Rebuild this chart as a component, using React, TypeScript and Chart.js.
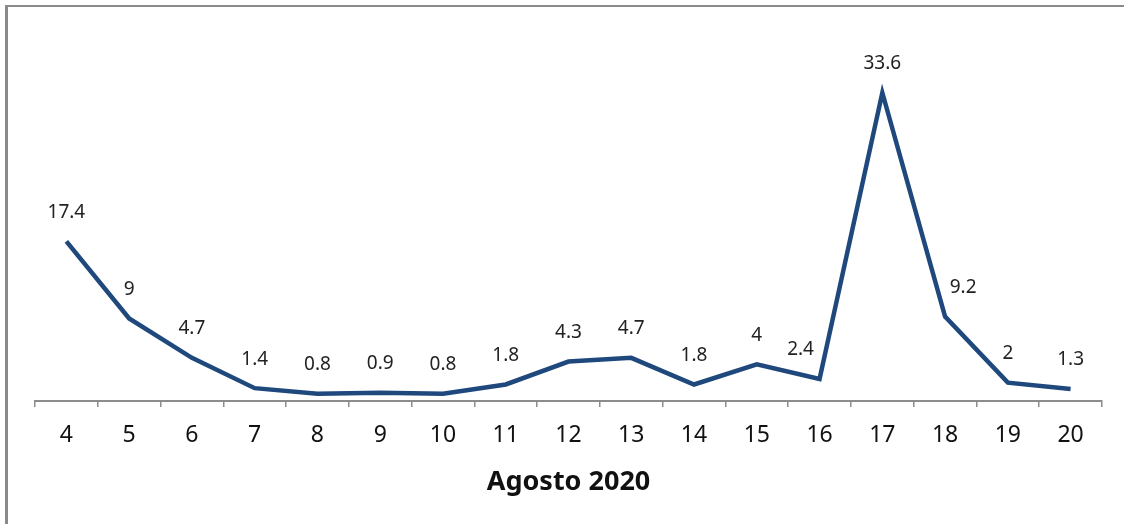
import React, { useEffect, useRef } from "react";
import { Chart, registerables } from "chart.js";

Chart.register(...registerables);

const categories = ["4", "5", "6", "7", "8", "9", "10", "11", "12", "13", "14", "15", "16", "17", "18", "19", "20"];
const values = [17.4, 9, 4.7, 1.4, 0.8, 0.9, 0.8, 1.8, 4.3, 4.7, 1.8, 4, 2.4, 33.6, 9.2, 2, 1.3];
const axisTitle = "Agosto 2020";
// horizontal nudge of a few data labels (as in the original chart)
const labelShiftX = [0, 0, 0, 0, 0, 0, 0, 0, 0, 0, 0, 0, -19, 0, 18, 0, 0];

const FONT = "'Noto Sans', sans-serif";

const dataLabelPlugin = {
  id: "dataLabels",
  afterDatasetsDraw(chart: any) {
    const ctx = chart.ctx;
    const meta = chart.getDatasetMeta(0);
    ctx.save();
    ctx.font = `19px ${FONT}`;
    ctx.fillStyle = "#222";
    ctx.textAlign = "center";
    ctx.textBaseline = "middle";
    meta.data.forEach((pt: any, i: number) => {
      ctx.fillText(String(values[i]), pt.x + labelShiftX[i], pt.y - 29);
    });
    ctx.restore();
  },
};

export default function App() {
  const ref = useRef<HTMLCanvasElement | null>(null);

  useEffect(() => {
    if (!ref.current) return;
    const chart = new Chart(ref.current, {
      type: "line",
      data: {
        labels: categories,
        datasets: [
          {
            data: values,
            borderColor: "#1F497D",
            backgroundColor: "#1F497D",
            borderWidth: 4.5,
            pointRadius: 0,
            tension: 0,
            fill: false,
          },
        ],
      },
      options: {
        animation: false,
        responsive: true,
        maintainAspectRatio: false,
        layout: { padding: { left: 35, right: 22, top: 34, bottom: 0 } },
        plugins: {
          legend: { display: false },
          tooltip: { enabled: false },
        },
        scales: {
          x: {
            type: "category",
            offset: true,
            afterFit: (scale: any) => {
              scale.height = 123;
            },
            grid: {
              offset: true,
              drawOnChartArea: false,
              drawTicks: true,
              tickLength: 6,
              color: "#8c8c8c",
              lineWidth: 1.5,
            },
            border: { display: true, color: "#8c8c8c", width: 2 },
            ticks: {
              color: "#111",
              font: { family: FONT, size: 23 },
              padding: 15,
              maxRotation: 0,
            },
            title: {
              display: true,
              text: axisTitle,
              color: "#111",
              font: { family: FONT, size: 27, weight: "bold" },
              padding: { top: 0, bottom: 25 },
            },
          },
          y: {
            display: false,
            min: 0,
            max: 40,
          },
        },
      },
      plugins: [dataLabelPlugin],
    });
    return () => chart.destroy();
  }, []);

  return (
    <>
      <div
        style={{
          position: "fixed",
          left: 5,
          top: 5,
          width: 1200,
          height: 600,
          borderLeft: "3px solid #8a8a8a",
          borderTop: "2px solid #8a8a8a",
          boxSizing: "border-box",
        }}
      />
      <div style={{ position: "fixed", left: 0, top: 0, width: 1124, height: 524 }}>
        <canvas ref={ref} />
      </div>
    </>
  );
}
